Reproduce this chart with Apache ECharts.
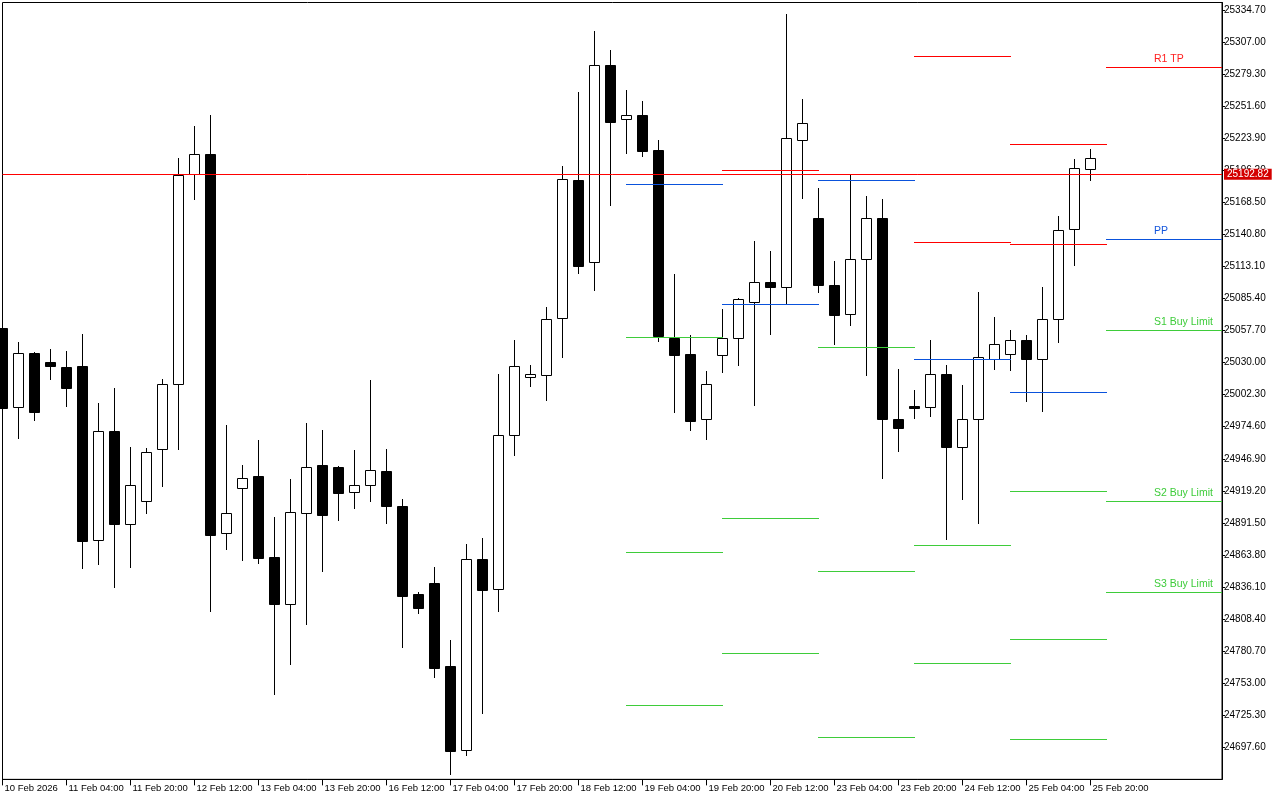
<!DOCTYPE html>
<html><head><meta charset="utf-8">
<script src="https://cdn.jsdelivr.net/npm/echarts@6/dist/echarts.min.js"></script>
<style>html,body{margin:0;padding:0;background:#fff}#c{width:1280px;height:800px}</style>
</head><body><div id="c"></div>
<script>
// ---- data (H4 bars, index 0 = 10 Feb 12:00) ----
const barOpen = [25060.0,24991.9,25038.3,25030.5,25026.2,25027.1,24876.5,24970.9,24890.3,24910.2,24955.1,25011.3,25192.7,25210.3,24882.5,24921.4,24932.0,24862.0,24821.2,24899.8,24941.5,24939.8,24917.9,24924.0,24936.4,24906.1,24830.1,24839.6,24767.9,24695.0,24860.3,24834.1,24967.2,25017.3,25019.0,25068.3,25187.5,25116.7,25287.2,25240.3,25244.0,25213.7,25051.5,25037.5,24981.0,25036.3,25051.0,25082.6,25099.4,25095.6,25222.1,25155.0,25097.1,25071.8,25119.3,25155.0,24981.0,24992.8,24991.9,25019.9,24957.4,24981.0,25033.4,25037.2,25049.3,25032.9,25067.4,25145.2,25197.1];
const barHigh = [25061.0,25047.8,25039.0,25041.8,25040.0,25054.7,24995.1,25008.1,24957.1,24956.2,25015.9,25206.8,25234.5,25244.0,24976.1,24941.5,24963.1,24896.6,24929.4,24977.8,24971.8,24940.7,24954.5,25015.0,24955.4,24912.2,24831.8,24853.4,24790.3,24873.3,24878.5,25020.2,25049.6,25027.9,25078.1,25199.9,25263.8,25316.6,25300.1,25265.6,25256.1,25222.4,25106.6,25053.9,25022.8,25076.3,25085.8,25135.1,25126.5,25331.2,25257.8,25180.9,25117.8,25193.0,25174.0,25171.4,25024.5,25006.3,25049.3,25027.7,25010.4,25090.8,25069.4,25058.2,25053.6,25095.3,25156.7,25206.0,25214.6];
const barLow = [24988.0,24965.1,24980.7,25016.1,24992.5,24852.8,24856.3,24836.4,24853.7,24900.3,24923.7,24955.6,25171.4,24815.6,24869.2,24859.7,24857.1,24743.7,24769.6,24804.1,24850.2,24894.3,24904.6,24910.7,24891.7,24784.5,24813.9,24758.6,24674.8,24691.2,24727.5,24815.6,24950.4,25010.1,24998.0,25035.1,25107.7,25093.0,25166.5,25211.4,25208.8,25048.9,24987.6,24972.0,24964.3,25022.2,25028.2,24993.6,25055.0,25080.4,25172.5,25091.3,25046.4,25062.8,25019.6,24930.6,24953.9,24982.4,24984.1,24877.3,24912.4,24891.2,25024.8,25023.9,24997.1,24988.5,25048.1,25114.6,25188.1];
const barClose = [24990.8,25038.1,24987.6,25027.3,25008.1,24876.1,24970.7,24890.8,24924.0,24952.5,25011.3,25191.9,25210.0,24881.3,24899.8,24930.0,24861.4,24821.2,24900.7,24939.6,24898.6,24917.6,24924.0,24937.0,24906.4,24828.6,24818.2,24766.4,24694.7,24860.1,24833.8,24967.2,25027.1,25019.9,25067.4,25188.4,25113.8,25286.9,25238.2,25243.7,25213.1,25053.3,25036.8,24979.8,25011.3,25051.0,25084.7,25099.4,25095.6,25223.8,25236.8,25097.1,25071.4,25119.3,25154.7,24981.5,24973.8,24991.1,25019.9,24957.4,24981.0,25034.6,25045.8,25049.3,25033.4,25067.4,25144.3,25197.9,25206.6];

const xTickLabels = ['10 Feb 2026','11 Feb 04:00','11 Feb 20:00','12 Feb 12:00','13 Feb 04:00','13 Feb 20:00','16 Feb 12:00','17 Feb 04:00','17 Feb 20:00','18 Feb 12:00','19 Feb 04:00','19 Feb 20:00','20 Feb 12:00','23 Feb 04:00','23 Feb 20:00','24 Feb 12:00','25 Feb 04:00','25 Feb 20:00'];

// daily pivot levels: first bar of each day (19,20,23,24,25,26 Feb)
const pivotDayStart = [39, 45, 51, 57, 63, 69];
const resistanceLevels = [[], [25196.2], [], [25295.0, 25134.0], [25218.7, 25132.2], [25285.2]];
const pivotLevels = [25184.1, 25080.4, 25187.5, 25032.9, 25004.4, 25136.8];
const supportLevels = [[25051.9, 24866.4, 24733.9], [24895.5, 24779.1], [25043.2, 24849.9, 24706.5], [24872.0, 24770.4], [24918.8, 24790.9, 24704.8], [25058.2, 24910.4, 24831.8]];
const lastDayLabels = ['R1 TP', 'PP', 'S1 Buy Limit', 'S2 Buy Limit', 'S3 Buy Limit'];
const currentPrice = 25192.82;

// y axis ticks
const yTickMin = 24669.9, yTickStep = 27.7;

// ---- build ----
const BARS_PER_DAY = 6;
const BARS_PER_LABEL = 4;
const X_MAX = 1219.5 / 16;
const Y_MAX = 25334.7 + 7.5 / 1.15728;
const COLORS = {R: '#ff0000', P: '#0a52dc', S: '#3ecc3a'};
const LABEL_COLORS = {R: '#ff2020', P: '#1456dc', S: '#3ecc3a'};

const candleData = barOpen.map((o, i) => [i, o, barHigh[i], barLow[i], barClose[i]]);
const xTickValues = xTickLabels.map((_, k) => k * BARS_PER_LABEL);

const levelData = [];
const lastDay = pivotDayStart.length - 1;
pivotDayStart.forEach((s, d) => {
  const e = d === lastDay ? X_MAX : s + BARS_PER_DAY;
  const lab = d === lastDay;
  resistanceLevels[d].forEach(v => levelData.push([s, e, v, 'R', lab ? lastDayLabels[0] : '']));
  levelData.push([s, e, pivotLevels[d], 'P', lab ? lastDayLabels[1] : '']);
  supportLevels[d].forEach((v, k) => levelData.push([s, e, v, 'S', lab ? lastDayLabels[2 + k] : '']));
});

const chart = echarts.init(document.getElementById('c'), null, {renderer: 'canvas'});
const FONT = "'Liberation Sans', Arial, sans-serif";

chart.setOption({
  animation: false,
  backgroundColor: '#ffffff',
  grid: {left: 2.5, top: 2.5, right: 58, bottom: 20.64, show: true, borderColor: '#000', borderWidth: 1, backgroundColor: 'transparent', outerBoundsMode: 'none', containLabel: false},
  xAxis: {
    type: 'value', min: 0, max: X_MAX, interval: BARS_PER_LABEL,
    axisLine: {show: true, onZero: false, lineStyle: {color: '#000', width: 1}},
    axisTick: {show: true, length: 6, lineStyle: {color: '#000'}, customValues: xTickValues},
    splitLine: {show: false},
    axisLabel: {
      show: true, color: '#000', fontFamily: FONT, fontSize: 9.5, align: 'left', margin: 4,
      padding: [0, 0, 0, 2], hideOverlap: false, customValues: xTickValues,
      formatter: v => { const k = Math.round(v / BARS_PER_LABEL); return (k >= 0 && k < xTickLabels.length) ? xTickLabels[k] : ''; }
    }
  },
  yAxis: {
    type: 'value', position: 'right', min: yTickMin, max: Y_MAX, interval: yTickStep,
    axisLine: {show: true, onZero: false, lineStyle: {color: '#000', width: 1}},
    axisTick: {show: true, inside: false, length: 3, lineStyle: {color: '#000'}},
    splitLine: {show: false},
    axisLabel: {color: '#000', fontFamily: FONT, fontSize: 10, margin: 2, showMinLabel: false, showMaxLabel: false,
      formatter: v => v.toFixed(2)}
  },
  series: [
    {
      type: 'custom', name: 'candles', clip: false,
      data: candleData,
      encode: {x: 0, y: [1, 2, 3, 4]},
      renderItem: (params, api) => {
        const i = api.value(0), o = api.value(1), h = api.value(2), l = api.value(3), c = api.value(4);
        const pO = api.coord([i, o]), pC = api.coord([i, c]), pH = api.coord([i, h]), pL = api.coord([i, l]);
        const x = Math.floor(pO[0]) + 0.5;
        const top = Math.round(Math.min(pO[1], pC[1]));
        const bot = Math.round(Math.max(pO[1], pC[1]));
        const bull = c >= o;
        return {
          type: 'group',
          children: [
            {type: 'line', shape: {x1: x, y1: Math.round(pH[1]), x2: x, y2: Math.round(pL[1]) + 1}, style: {stroke: '#000', lineWidth: 1}},
            {type: 'rect', shape: {x: x - 5, y: top + 0.5, width: 10, height: Math.max(bot - top, 1)},
              style: {fill: bull ? '#fff' : '#000', stroke: '#000', lineWidth: 1}}
          ]
        };
      },
      z: 2
    },
    {
      type: 'custom', name: 'levels', clip: false,
      data: levelData,
      encode: {x: [0, 1], y: 2},
      renderItem: (params, api) => {
        const item = levelData[params.dataIndex];
        const p1 = api.coord([item[0], item[2]]), p2 = api.coord([item[1], item[2]]);
        const y = Math.round(p1[1]) + 0.5;
        const children = [{type: 'line', shape: {x1: Math.floor(p1[0]), y1: y, x2: Math.round(p2[0]), y2: y},
          style: {stroke: COLORS[item[3]], lineWidth: 1}}];
        if (item[4]) {
          children.push({type: 'text', x: Math.floor(p1[0]) + 48, y: y - 3,
            style: {text: item[4], fill: LABEL_COLORS[item[3]], font: '10.5px ' + FONT, textAlign: 'left', textVerticalAlign: 'bottom'}});
        }
        return {type: 'group', children};
      },
      z: 3
    },
    {
      type: 'line', name: 'price', data: [], symbol: 'none',
      markLine: {
        silent: true, symbol: 'none', animation: false,
        lineStyle: {color: '#ff0000', type: 'solid', width: 1},
        label: {show: true, position: 'end', distance: 2, formatter: currentPrice.toFixed(2),
          color: '#fff', backgroundColor: '#d40000', padding: [1, 3, 0, 3], fontFamily: FONT, fontSize: 10},
        data: [{yAxis: currentPrice}]
      },
      z: 4
    }
  ]
});
</script></body></html>
